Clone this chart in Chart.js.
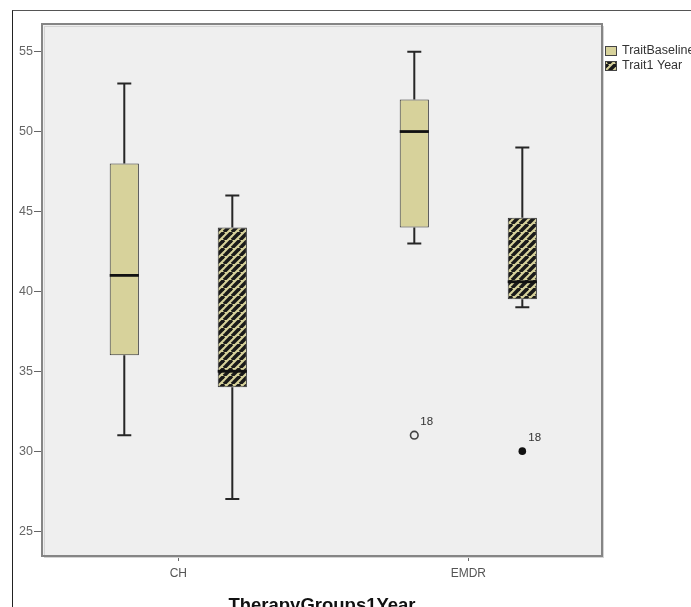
<!DOCTYPE html>
<html>
<head>
<meta charset="utf-8">
<script src="https://cdn.jsdelivr.net/npm/chart.js@4/dist/chart.umd.min.js"></script>
<style>
  html, body { margin: 0; padding: 0; background: #ffffff; overflow: hidden; }
  #wrap { position: relative; width: 691px; height: 607px; overflow: hidden; }
  #c { position: absolute; left: 0; top: 0; }
  #frame { position: absolute; left: 12px; top: 10px; width: 700px; height: 620px;
           border-left: 1px solid #222; border-top: 1px solid #555; pointer-events: none; }
</style>
</head>
<body>
<div id="wrap">
  <canvas id="c" width="691" height="620" style="width:691px;height:620px"></canvas>
  <div id="frame"></div>
</div>
<script>
// ---- data ----
const categories = ['CH', 'EMDR'];
const seriesNames = ['TraitBaseline', 'Trait1 Year'];
const yTicks = [25, 30, 35, 40, 45, 50, 55];

const baseMin    = [31, 43];
const baseQ1     = [36, 44];
const baseMedian = [41, 50];
const baseQ3     = [48, 52];
const baseMax    = [53, 55];
const baseOutlierValues = [null, 31];
const baseOutlierLabels = [null, '18'];

const yearMin    = [27, 39];
const yearQ1     = [34, 39.5];
const yearMedian = [35, 40.6];
const yearQ3     = [44, 44.6];
const yearMax    = [46, 49];
const yearOutlierValues = [null, 30];
const yearOutlierLabels = [null, '18'];

// ---- styles ----
const KHAKI = '#d7d29b';
const FONT = "'Liberation Sans', Arial, sans-serif";

function makeHatch() {
  const s = 8;
  const c = document.createElement('canvas');
  c.width = s; c.height = s;
  const g = c.getContext('2d');
  g.fillStyle = KHAKI;
  g.fillRect(0, 0, s, s);
  g.strokeStyle = '#1a1a1a';
  g.lineWidth = 3.6;
  for (const o of [-s, 0, s]) {
    g.beginPath();
    g.moveTo(o, s);
    g.lineTo(o + s, 0);
    g.stroke();
  }
  return g.createPattern(c, 'repeat');
}
const ctx = document.getElementById('c').getContext('2d');
const hatch = makeHatch();

const stats = [
  {min: baseMin, q1: baseQ1, med: baseMedian, q3: baseQ3, max: baseMax,
   out: baseOutlierValues, outLabel: baseOutlierLabels, filled: false},
  {min: yearMin, q1: yearQ1, med: yearMedian, q3: yearQ3, max: yearMax,
   out: yearOutlierValues, outLabel: yearOutlierLabels, filled: true}
];

const boxPlugin = {
  id: 'boxPlugin',
  beforeDraw(chart) {
    const {ctx, chartArea: a} = chart;
    ctx.save();
    ctx.fillStyle = '#efefef';
    ctx.fillRect(a.left, a.top, a.right - a.left, a.bottom - a.top);
    ctx.restore();
  },
  beforeDatasetsDraw(chart) {
    const {ctx, chartArea: a} = chart;
    ctx.save();
    ctx.strokeStyle = '#d4d4d4';
    ctx.lineWidth = 1;
    ctx.strokeRect(a.left + 2.5, a.top + 2.5, a.right - a.left - 1, a.bottom - a.top - 1);
    ctx.strokeStyle = '#858585';
    ctx.lineWidth = 2;
    ctx.strokeRect(a.left, a.top, a.right - a.left, a.bottom - a.top);
    ctx.restore();
    // whiskers (drawn before boxes)
    const y = chart.scales.y;
    ctx.save();
    ctx.strokeStyle = '#262626';
    ctx.lineWidth = 2;
    stats.forEach((s, d) => {
      const meta = chart.getDatasetMeta(d);
      meta.data.forEach((bar, i) => {
        const x = bar.x;
        ctx.beginPath();
        ctx.moveTo(x, y.getPixelForValue(s.max[i]));
        ctx.lineTo(x, y.getPixelForValue(s.q3[i]));
        ctx.moveTo(x, y.getPixelForValue(s.q1[i]));
        ctx.lineTo(x, y.getPixelForValue(s.min[i]));
        ctx.stroke();
        ctx.beginPath();
        ctx.moveTo(x - 7, y.getPixelForValue(s.max[i]));
        ctx.lineTo(x + 7, y.getPixelForValue(s.max[i]));
        ctx.moveTo(x - 7, y.getPixelForValue(s.min[i]));
        ctx.lineTo(x + 7, y.getPixelForValue(s.min[i]));
        ctx.stroke();
      });
    });
    ctx.restore();
  },
  afterDatasetsDraw(chart) {
    const {ctx} = chart;
    const y = chart.scales.y;
    ctx.save();
    stats.forEach((s, d) => {
      const meta = chart.getDatasetMeta(d);
      meta.data.forEach((bar, i) => {
        const x = bar.x, hw = bar.width / 2;
        ctx.strokeStyle = '#111';
        ctx.lineWidth = 2.8;
        ctx.beginPath();
        ctx.moveTo(x - hw, y.getPixelForValue(s.med[i]));
        ctx.lineTo(x + hw, y.getPixelForValue(s.med[i]));
        ctx.stroke();
        if (s.out[i] !== null) {
          const py = y.getPixelForValue(s.out[i]);
          ctx.beginPath();
          ctx.arc(x, py, 3.8, 0, Math.PI * 2);
          if (s.filled) {
            ctx.fillStyle = '#111';
            ctx.fill();
          } else {
            ctx.strokeStyle = '#444';
            ctx.lineWidth = 1.6;
            ctx.stroke();
          }
          ctx.fillStyle = '#333';
          ctx.font = '11.5px ' + FONT;
          ctx.textAlign = 'left';
          ctx.textBaseline = 'middle';
          ctx.fillText(s.outLabel[i], x + 6, py - 13);
        }
      });
    });
    ctx.restore();
  },
  afterDraw(chart) {
    const {ctx, chartArea: a} = chart;
    ctx.save();
    ctx.font = '12.5px ' + FONT;
    ctx.textBaseline = 'middle';
    ctx.textAlign = 'left';
    chart.data.datasets.forEach((ds, d) => {
      const cy = 51 + d * 15;
      const lx = a.right + 3;
      ctx.fillStyle = ds.backgroundColor;
      ctx.fillRect(lx, cy - 5, 12, 10);
      ctx.strokeStyle = '#444';
      ctx.lineWidth = 1;
      ctx.strokeRect(lx + 0.5, cy - 4.5, 11, 9);
      ctx.fillStyle = '#333';
      ctx.fillText(ds.label, lx + 17, cy);
    });
    ctx.restore();
  }
};

function boxData(q1, q3) {
  return categories.map((c, i) => ({x: i, y: [q1[i], q3[i]]}));
}

new Chart(ctx, {
  type: 'bar',
  data: {
    datasets: [
      {label: seriesNames[0], data: boxData(baseQ1, baseQ3), backgroundColor: KHAKI,
       borderColor: '#333', borderWidth: 1, borderSkipped: false},
      {label: seriesNames[1], data: boxData(yearQ1, yearQ3), backgroundColor: hatch,
       borderColor: '#333', borderWidth: 1, borderSkipped: false}
    ]
  },
  options: {
    responsive: false,
    animation: false,
    devicePixelRatio: 1,
    categoryPercentage: 0.745,
    barPercentage: 0.27,
    layout: {padding: {left: 0, top: 24, right: 89, bottom: 0}},
    plugins: {legend: {display: false}, tooltip: {enabled: false}},
    scales: {
      x: {
        type: 'linear',
        min: -0.4700,
        max: 1.4610,
        offset: false,
        grid: {display: true, drawOnChartArea: false, drawTicks: true, tickLength: 5,
               color: '#666', offset: false},
        border: {display: false},
        afterBuildTicks(scale) { scale.ticks = categories.map((c, i) => ({value: i})); },
        afterFit(scale) { scale.height = 64; },
        ticks: {
          callback: (v) => categories[v],
          color: '#555',
          font: {family: FONT, size: 12},
          padding: 5,
          maxRotation: 0,
          autoSkip: false
        },
        title: {
          display: true,
          text: 'TherapyGroups1Year',
          color: '#111',
          font: {family: FONT, size: 18.5, weight: 'bold'},
          padding: {top: 0, bottom: 3}
        }
      },
      y: {
        min: 23.44,
        max: 56.73,
        grid: {display: true, drawOnChartArea: false, drawTicks: true, tickLength: 8, color: '#666'},
        border: {display: false},
        afterBuildTicks(scale) { scale.ticks = yTicks.map(v => ({value: v})); },
        afterFit(scale) { scale.width = 42; },
        ticks: {
          color: '#666',
          font: {family: FONT, size: 12.5},
          padding: 1
        }
      }
    }
  },
  plugins: [boxPlugin]
});
</script>
</body>
</html>
